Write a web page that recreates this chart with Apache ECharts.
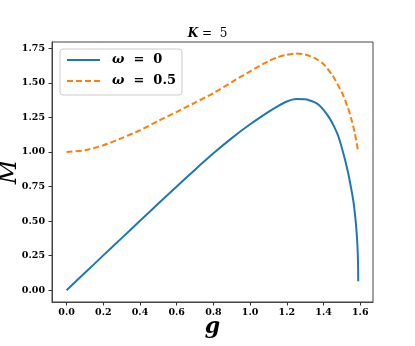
<!DOCTYPE html>
<html>
<head>
<meta charset="utf-8">
<script src="https://cdn.jsdelivr.net/npm/echarts@6/dist/echarts.min.js"></script>
<style>
  html, body { margin: 0; padding: 0; background: #fff; }
  #chart { width: 415px; height: 346px; }
</style>
</head>
<body>
<div id="chart"></div>
<script>
// data
const gBlue = [0, 0.1, 0.2, 0.3, 0.4, 0.5, 0.6, 0.7, 0.8, 0.9, 1.0, 1.1, 1.15, 1.2, 1.25, 1.3, 1.35, 1.375, 1.4, 1.43, 1.455, 1.48, 1.51, 1.533, 1.55, 1.563, 1.572, 1.579, 1.584, 1.587, 1.5885, 1.589]
const mBlue = [0, 0.126, 0.252, 0.377, 0.502, 0.627, 0.75, 0.872, 0.99, 1.1, 1.2, 1.29, 1.33, 1.365, 1.383, 1.381, 1.36, 1.34, 1.305, 1.25, 1.19, 1.115, 0.98, 0.855, 0.74, 0.64, 0.54, 0.44, 0.34, 0.24, 0.15, 0.065]
const gOrange = [0, 0.1, 0.2, 0.3, 0.4, 0.5, 0.6, 0.7, 0.8, 0.9, 1.0, 1.1, 1.15, 1.2, 1.25, 1.3, 1.35, 1.4, 1.45, 1.5, 1.53, 1.55, 1.57, 1.589]
const mOrange = [1.0, 1.012, 1.048, 1.1, 1.157, 1.225, 1.29, 1.357, 1.425, 1.505, 1.583, 1.657, 1.685, 1.703, 1.712, 1.705, 1.68, 1.635, 1.55, 1.43, 1.33, 1.245, 1.14, 1.0]
const seriesNames = ['ω = 0', 'ω = 0.5']
const xTicks = [0, 0.2, 0.4, 0.6, 0.8, 1.0, 1.2, 1.4, 1.6]
const yTicks = [0, 0.25, 0.5, 0.75, 1.0, 1.25, 1.5, 1.75]

const toPairs = (xs, ys) => xs.map((x, i) => [x, ys[i]])

const chart = echarts.init(document.getElementById('chart'))

const serif = '"DejaVu Serif", serif'

chart.setOption({
  animation: false,
  title: {
    text: '{k|K}{e| =  5}',
    left: 'center',
    top: 28,
    padding: [0, 0, 0, 15],
    textStyle: {
      rich: {
        k: { fontFamily: serif, fontStyle: 'italic', fontWeight: 'bold', fontSize: 12, color: '#000' },
        e: { fontFamily: serif, fontWeight: 'normal', fontSize: 12, color: '#000' }
      }
    }
  },
  legend: {
    data: seriesNames,
    orient: 'vertical',
    left: 60,
    top: 49,
    padding: [2, 6, 5, 6],
    itemGap: 3,
    itemWidth: 33,
    itemHeight: 14,
    itemStyle: { opacity: 0 },
    backgroundColor: '#fff',
    borderColor: '#cccccc',
    borderWidth: 1,
    borderRadius: 3,
    formatter: (name) => {
      const i = name.indexOf(' ')
      return '{w|' + name.slice(0, i) + '}{n|' + name.slice(i).replace(' = ', '  =  ') + '}'
    },
    textStyle: {
      padding: [0, 0, 0, 7],
      lineHeight: 18,
      rich: {
        w: { fontFamily: serif, fontStyle: 'italic', fontWeight: 'bold', fontSize: 13, color: '#000', lineHeight: 18 },
        n: { fontFamily: serif, fontWeight: 'bold', fontSize: 13, color: '#000', lineHeight: 18 }
      }
    }
  },
  grid: {
    left: 52,
    right: 42,
    top: 42,
    bottom: 44,
    show: true,
    borderColor: '#444',
    borderWidth: 1,
    containLabel: false,
    outerBoundsMode: 'none'
  },
  xAxis: {
    type: 'value',
    min: -0.0795,
    max: 1.6695,
    name: 'g',
    nameLocation: 'middle',
    nameGap: 14,
    nameMoveOverlap: false,
    nameTextStyle: { fontFamily: serif, fontStyle: 'italic', fontWeight: 'bold', fontSize: 22, color: '#000' },
    axisLine: { show: true, onZero: false, lineStyle: { color: '#444', width: 1 } },
    axisTick: { show: true, customValues: xTicks, length: 3.5, lineStyle: { color: '#333' } },
    axisLabel: {
      customValues: xTicks,
      formatter: (v) => v.toFixed(1),
      margin: 6,
      fontFamily: serif,
      fontWeight: 'bold',
      fontSize: 9.5,
      color: '#000'
    },
    splitLine: { show: false }
  },
  yAxis: {
    type: 'value',
    min: -0.085,
    max: 1.795,
    name: 'M',
    nameLocation: 'middle',
    nameGap: 30,
    nameRotate: 90,
    nameMoveOverlap: false,
    nameTextStyle: { fontFamily: serif, fontStyle: 'italic', fontSize: 24, color: '#000' },
    axisLine: { show: true, onZero: false, lineStyle: { color: '#444', width: 1 } },
    axisTick: { show: true, customValues: yTicks, length: 3.5, lineStyle: { color: '#333' } },
    axisLabel: {
      customValues: yTicks,
      formatter: (v) => v.toFixed(2),
      margin: 7,
      fontFamily: serif,
      fontWeight: 'bold',
      fontSize: 9.5,
      color: '#000'
    },
    splitLine: { show: false }
  },
  series: [
    {
      name: seriesNames[0],
      type: 'line',
      data: toPairs(gBlue, mBlue),
      symbol: 'none',
      smooth: 0.25,
      lineStyle: { color: '#1f77b4', width: 2 },
      itemStyle: { color: '#1f77b4' }
    },
    {
      name: seriesNames[1],
      type: 'line',
      data: toPairs(gOrange, mOrange),
      symbol: 'none',
      smooth: 0.25,
      lineStyle: { color: '#ff7f0e', width: 2, type: [6, 3] },
      itemStyle: { color: '#ff7f0e' }
    }
  ]
})
</script>
</body>
</html>
